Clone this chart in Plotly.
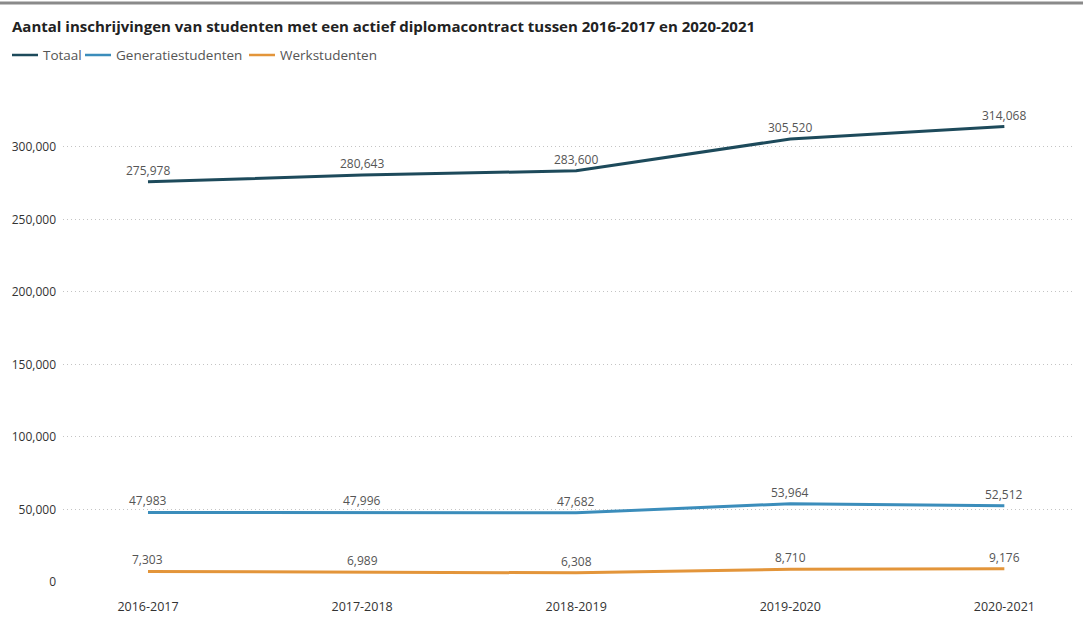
import plotly.graph_objects as go

years = ["2016-2017", "2017-2018", "2018-2019", "2019-2020", "2020-2021"]
totaal = [275978, 280643, 283600, 305520, 314068]
generatie = [47983, 47996, 47682, 53964, 52512]
werk = [7303, 6989, 6308, 8710, 9176]

series = [
    ("Totaal", totaal, "#1d4a5b"),
    ("Generatiestudenten", generatie, "#3b8dbb"),
    ("Werkstudenten", werk, "#e3953a"),
]
legend_x = [12, 85, 249]  # pixel start of each legend swatch

FONT = "Open Sans"
W, H = 1083, 617
L, R, T, B = 63, 8, 100, 35
PW, PH = W - L - R, H - T - B


def px(x):
    return (x - L) / PW


def py(y):
    return (H - B - y) / PH


fig = go.Figure()
xs = list(range(len(years)))
for (name, vals, col), lx in zip(series, legend_x):
    fig.add_trace(go.Scatter(
        x=xs, y=vals, name=name, mode="lines",
        line=dict(color=col, width=3),
        hoverinfo="x+y", showlegend=False,
    ))
    for xi, v in zip(xs, vals):
        fig.add_annotation(x=xi, y=v, xref="x", yref="y", text=f"{v:,}",
                           showarrow=False, yanchor="bottom", yshift=1,
                           font=dict(family=FONT, size=12, color="#555555"))
    # legend item
    fig.add_shape(type="line", xref="paper", yref="paper",
                  x0=px(lx), x1=px(lx + 26), y0=py(55), y1=py(55),
                  line=dict(color=col, width=2.5))
    fig.add_annotation(x=px(lx + 29), y=py(55), xref="paper", yref="paper",
                       text=name, showarrow=False, xanchor="left", yanchor="middle",
                       font=dict(family=FONT, size=13.5, color="#555555"))

fig.update_layout(
    width=W, height=H,
    paper_bgcolor="white", plot_bgcolor="white",
    margin=dict(l=L, r=R, t=T, b=B, autoexpand=False),
    font=dict(family=FONT, color="#333333"),
    title=dict(text="<b>Aantal inschrijvingen van studenten met een actief diplomacontract tussen 2016-2017 en 2020-2021</b>",
               x=12 / W, xref="container", xanchor="left",
               y=1 - 27 / H, yref="container", yanchor="middle",
               font=dict(size=15, color="#222222", family=FONT), pad=dict(l=0, t=0, b=0, r=0)),
    showlegend=False,
)
fig.add_shape(type="rect", xref="paper", yref="paper", x0=px(0), x1=px(W),
              y0=py(4.5), y1=py(1.5), line=dict(width=0), fillcolor="#8a8a8a", layer="above")

fig.update_xaxes(tickmode="array", tickvals=xs, ticktext=years,
                 range=[-0.397, 4.33], showgrid=False, zeroline=False, showline=False,
                 tickfont=dict(size=12.5, color="#333333", family=FONT), ticks="", ticklen=0,
                 ticklabelstandoff=15, automargin=False)
fig.update_yaxes(range=[0, 332400], tickvals=[0, 50000, 100000, 150000, 200000, 250000, 300000],
                 tickformat=",", showgrid=True, gridcolor="#c4c4c4", griddash="1px,3px", gridwidth=1,
                 zeroline=False, showline=False, automargin=False,
                 tickfont=dict(size=12, color="#333333", family=FONT), ticks="", ticklabelstandoff=6)

fig.write_html("out.html", config={"displayModeBar": False},
               post_script="document.body.style.margin='0';document.body.style.padding='0';")
